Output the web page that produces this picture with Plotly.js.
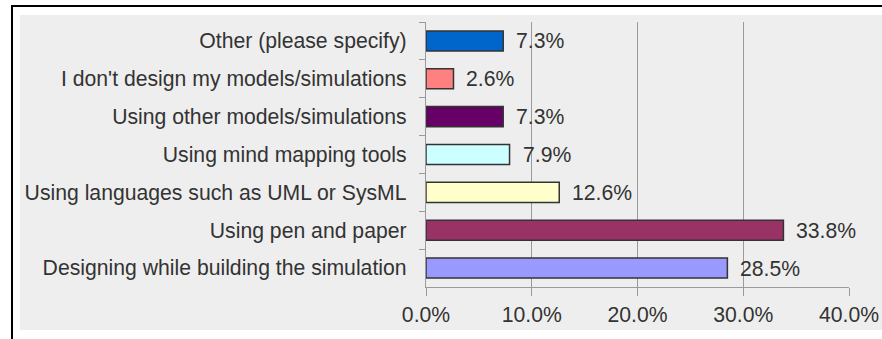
<!DOCTYPE html>
<html>
<head>
<meta charset="utf-8">
<script src="https://cdn.plot.ly/plotly-3.0.1.min.js"></script>
<style>
  html, body { margin: 0; padding: 0; background: #ffffff; width: 882px; height: 339px; overflow: hidden; }
  #frame-top { position: absolute; left: 11px; top: 5px; width: 871px; height: 2px; background: #000; }
  #frame-left { position: absolute; left: 11px; top: 5px; width: 2px; height: 334px; background: #000; }
  #chart { position: absolute; left: 20px; top: 15px; width: 862px; height: 315px; }
</style>
</head>
<body>
<div id="frame-top"></div>
<div id="frame-left"></div>
<div id="chart"></div>
<script>
// Survey answers, listed top to bottom as shown
const categories = [
  "Other (please specify)",
  "I don't design my models/simulations",
  "Using other models/simulations",
  "Using mind mapping tools",
  "Using languages such as UML or SysML",
  "Using pen and paper",
  "Designing while building the simulation"
];
const percentages = [7.3, 2.6, 7.3, 7.9, 12.6, 33.8, 28.5];
const barColors = ["#0066cc", "#ff8080", "#660066", "#ccffff", "#ffffcc", "#993366", "#9999ff"];
const xTickValues = [0, 10, 20, 30, 40];
const xTickLabels = ["0.0%", "10.0%", "20.0%", "30.0%", "40.0%"];

const fontFamily = "Liberation Sans, Arial, sans-serif";
const textColor = "#333333";
const fontSize = 21.2;

const trace = {
  type: "bar",
  orientation: "h",
  y: categories,
  x: percentages,
  marker: { color: barColors, line: { color: "#333333", width: 1.5 } },
  hoverinfo: "skip"
};

// Value labels placed just right of each bar end
const labels = categories.map((c, i) => ({
  x: percentages[i],
  y: c,
  xref: "x",
  yref: "y",
  text: percentages[i].toFixed(1) + "%",
  showarrow: false,
  xanchor: "left",
  yanchor: "middle",
  xshift: 11,
  font: { family: fontFamily, size: fontSize, color: textColor }
}));

const layout = {
  width: 862,
  height: 315,
  margin: { l: 406, r: 33, t: 7, b: 43, pad: 0 },
  paper_bgcolor: "#eeeeee",
  plot_bgcolor: "#eeeeee",
  showlegend: false,
  bargap: 0.47,
  font: { family: fontFamily, size: fontSize, color: textColor },
  xaxis: {
    range: [0, 40],
    tickvals: xTickValues,
    ticktext: xTickLabels,
    showgrid: true,
    gridcolor: "#9a9a9a",
    gridwidth: 1.2,
    zeroline: false,
    showline: true,
    linecolor: "#9a9a9a",
    linewidth: 1.2,
    ticks: "outside",
    ticklen: 8,
    tickcolor: "#9a9a9a",
    tickfont: { family: fontFamily, size: fontSize, color: textColor },
    fixedrange: true
  },
  yaxis: {
    type: "category",
    autorange: "reversed",
    tickson: "boundaries",
    ticks: "outside",
    ticklen: 6,
    tickcolor: "#9a9a9a",
    showgrid: false,
    showline: true,
    linecolor: "#9a9a9a",
    linewidth: 1.2,
    ticklabelstandoff: 14,
    tickfont: { family: fontFamily, size: fontSize, color: textColor },
    fixedrange: true
  },
  annotations: labels
};

Plotly.newPlot("chart", [trace], layout, { staticPlot: true, displayModeBar: false });
</script>
</body>
</html>
